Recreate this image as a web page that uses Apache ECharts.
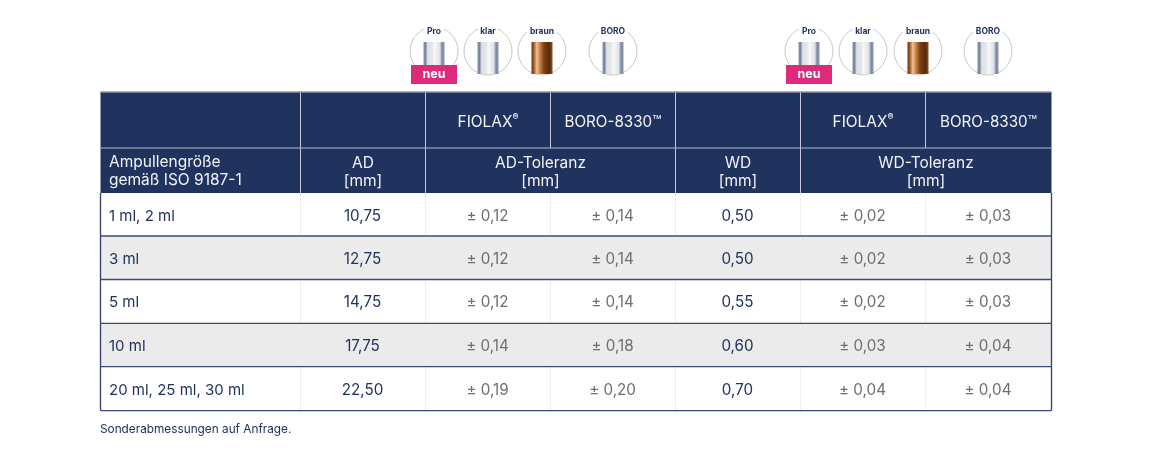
<!DOCTYPE html>
<html>
<head>
<meta charset="utf-8">
<style>
  html, body { margin: 0; padding: 0; background: #fff; }
  #chart { width: 1152px; height: 465px; }
</style>
<script src="https://cdn.jsdelivr.net/npm/echarts@6/dist/echarts.min.js"></script>
</head>
<body>
<div id="chart"></div>
<script>
// table content
const sizes = ['1 ml, 2 ml', '3 ml', '5 ml', '10 ml', '20 ml, 25 ml, 30 ml'];
const ad = ['10,75', '12,75', '14,75', '17,75', '22,50'];
const adTolFiolax = ['± 0,12', '± 0,12', '± 0,12', '± 0,14', '± 0,19'];
const adTolBoro = ['± 0,14', '± 0,14', '± 0,14', '± 0,18', '± 0,20'];
const wd = ['0,50', '0,50', '0,55', '0,60', '0,70'];
const wdTolFiolax = ['± 0,02', '± 0,02', '± 0,02', '± 0,03', '± 0,04'];
const wdTolBoro = ['± 0,03', '± 0,03', '± 0,03', '± 0,04', '± 0,04'];
const footnote = 'Sonderabmessungen auf Anfrage.';

const NAVY = '#20325e';
const GREY_TEXT = '#6e6e6e';
const FONT = 'Inter, "Noto Sans", sans-serif';

// column and row edges, in axis units
const colEdges = [0, 200, 325, 450, 575, 700, 825, 951];
const rowEdges = [0, 56, 101, 144, 187.5, 231.3, 274.7, 318.6];

// header cells: col from, col to, row, text
const headerCells = [
  [0, 1, 0, ''], [1, 2, 0, ''], [2, 3, 0, 'FIOLAX'], [3, 4, 0, 'BORO-8330™'],
  [4, 5, 0, ''], [5, 6, 0, 'FIOLAX'], [6, 7, 0, 'BORO-8330™'],
  [0, 1, 1, 'Ampullengröße\ngemäß ISO 9187-1'], [1, 2, 1, 'AD\n[mm]'], [2, 4, 1, 'AD-Toleranz\n[mm]'],
  [4, 5, 1, 'WD\n[mm]'], [5, 7, 1, 'WD-Toleranz\n[mm]']
];

const bodyColumns = [sizes, ad, adTolFiolax, adTolBoro, wd, wdTolFiolax, wdTolBoro];

function headerItem(params, api) {
  const c = headerCells[params.dataIndex];
  const p0 = api.coord([colEdges[c[0]], rowEdges[c[2]]]);
  const p1 = api.coord([colEdges[c[1]], rowEdges[c[2] + 1]]);
  const isFirst = c[0] === 0;
  // the AD-Toleranz heading sits left of its span in the original
  const shift = c[0] === 2 && c[1] === 4 ? -10 : 0;
  const style = {
    x: isFirst ? p0[0] + 8.5 : (p0[0] + p1[0]) / 2 + shift,
    y: (p0[1] + p1[1]) / 2 + (c[2] === 0 ? 2 : isFirst ? 0.5 : 1.5),
    text: c[3],
    fill: '#f2f3f6',
    font: (c[2] === 0 ? '15.2px ' : '15.5px ') + FONT,
    lineHeight: 18,
    align: isFirst ? 'left' : 'center',
    verticalAlign: 'middle'
  };
  if (c[3] === 'FIOLAX') {
    style.text = '{a|FIOLAX}{b|®}';
    style.rich = {
      a: { fill: '#f2f3f6', font: '15.4px ' + FONT },
      b: { fill: '#f2f3f6', font: 'bold 9px ' + FONT, verticalAlign: 'top', padding: [0, 0, 5, 0] }
    };
  }
  return {
    type: 'group',
    children: [
      { type: 'rect', shape: { x: p0[0], y: p0[1], width: p1[0] - p0[0], height: p1[1] - p0[1] }, style: { fill: NAVY } },
      { type: 'text', style: style, z2: 5 }
    ]
  };
}

function bodyItem(params, api) {
  const col = api.value(0), row = api.value(1);
  const p0 = api.coord([colEdges[col], rowEdges[row + 2]]);
  const p1 = api.coord([colEdges[col + 1], rowEdges[row + 3]]);
  const isFirst = col === 0;
  const isTol = col === 2 || col === 3 || col === 5 || col === 6;
  return {
    type: 'group',
    children: [
      { type: 'rect', shape: { x: p0[0], y: p0[1], width: p1[0] - p0[0], height: p1[1] - p0[1] },
        style: { fill: row % 2 ? '#ebebeb' : '#ffffff' } },
      { type: 'text', z2: 5, style: {
        x: isFirst ? p0[0] + 8.5 : (p0[0] + p1[0]) / 2 - 0.5,
        y: (p0[1] + p1[1]) / 2 + 1.5,
        text: bodyColumns[col][row],
        fill: isTol ? GREY_TEXT : NAVY,
        font: (isFirst ? '15px ' : '15.2px ') + FONT,
        align: isFirst ? 'left' : 'center',
        verticalAlign: 'middle'
      } }
    ]
  };
}

// [x0, y0, x1, y1, colour, width]
const ruleData = [];
[1, 2, 3, 4, 5, 6].forEach(function (i) {
  const merged = i === 3 || i === 6;
  ruleData.push([colEdges[i], rowEdges[0], colEdges[i], merged ? rowEdges[1] : rowEdges[2], '#c3c8d4', 1]);
  ruleData.push([colEdges[i], rowEdges[2], colEdges[i], rowEdges[7], '#eeeeee', 1]);
});
ruleData.push([0, rowEdges[0], 951, rowEdges[0], '#8f98b0', 1.5]);
ruleData.push([0, rowEdges[1], 951, rowEdges[1], '#b4bac9', 1.2]);
[3, 4, 5, 6, 7].forEach(function (r) {
  ruleData.push([0, rowEdges[r], 951, rowEdges[r], '#3b4b78', 1.3]);
});
ruleData.push([0, rowEdges[2], 0, rowEdges[7], '#2f3f6c', 1.3]);
ruleData.push([951, rowEdges[2], 951, rowEdges[7], '#2f3f6c', 1.3]);

function ruleItem(params, api) {
  const r = ruleData[params.dataIndex];
  const a = api.coord([r[0], r[1]]), b = api.coord([r[2], r[3]]);
  return { type: 'line', shape: { x1: a[0], y1: a[1], x2: b[0], y2: b[1] }, style: { stroke: r[4], lineWidth: r[5] } };
}

// ampoule pictograms above the table
const iconLabels = ['Pro', 'klar', 'braun', 'BORO'];
const iconCentres = [[434, 488, 542, 613], [809, 863, 918, 988]];

function glassFill() {
  return new echarts.graphic.LinearGradient(0, 0, 1, 0, [
    { offset: 0, color: '#8a97ad' }, { offset: 0.1, color: '#77869f' }, { offset: 0.2, color: '#dfe2e6' },
    { offset: 0.4, color: '#e3e5e8' }, { offset: 0.52, color: '#f7f8f9' }, { offset: 0.78, color: '#dfe1e5' },
    { offset: 0.88, color: '#7d8ba3' }, { offset: 1, color: '#8a97ad' }
  ]);
}
function brownFill() {
  return new echarts.graphic.LinearGradient(0, 0, 1, 0, [
    { offset: 0, color: '#6b3410' }, { offset: 0.12, color: '#a55f28' }, { offset: 0.25, color: '#f0c096' },
    { offset: 0.42, color: '#c27a3c' }, { offset: 0.6, color: '#7a4015' }, { offset: 0.85, color: '#5a2c0c' }, { offset: 1, color: '#8a4f20' }
  ]);
}

const graphics = [];
iconCentres.forEach(function (centres) {
  centres.forEach(function (cx, i) {
    const label = iconLabels[i];
    graphics.push({ type: 'circle', shape: { cx: cx, cy: 51, r: 24 }, style: { fill: '#fff', stroke: '#c8c8c8', lineWidth: 1 } });
    graphics.push({ type: 'rect', shape: { x: cx - 10.5, y: 42, width: 21, height: 32 }, style: { fill: label === 'braun' ? brownFill() : glassFill() } });
    const w = label === 'braun' ? 30 : label === 'BORO' ? 29 : 20;
    graphics.push({ type: 'rect', shape: { x: cx - w / 2, y: 25, width: w, height: 12 }, style: { fill: '#fff' } });
    graphics.push({ type: 'text', style: { x: cx, y: 31, text: label, fill: NAVY, font: 'bold 8.5px ' + FONT, align: 'center', verticalAlign: 'middle' } });
  });
  const x = centres[0];
  graphics.push({ type: 'rect', shape: { x: x - 23, y: 65, width: 46, height: 19 }, style: { fill: '#dd2a7b' } });
  graphics.push({ type: 'text', style: { x: x, y: 74.5, text: 'neu', fill: '#fff', font: 'bold 12.5px ' + FONT, align: 'center', verticalAlign: 'middle' } });
});
graphics.push({ type: 'text', style: { x: 100, y: 429.5, text: footnote, fill: NAVY, font: '11.8px ' + FONT, align: 'left', verticalAlign: 'middle' } });

const bodyData = [];
bodyColumns.forEach(function (column, c) {
  column.forEach(function (v, r) { bodyData.push([c, r]); });
});

const myChart = echarts.init(document.getElementById('chart'), null, { renderer: 'canvas' });
myChart.setOption({
  animation: false,
  backgroundColor: '#fff',
  grid: { left: 100.5, top: 92, width: 951, height: 318.6 },
  xAxis: { type: 'value', min: 0, max: 951, show: false },
  yAxis: { type: 'value', min: 0, max: 318.6, inverse: true, show: false },
  graphic: graphics.map(function (g) { g.silent = true; return g; }),
  series: [
    { type: 'custom', coordinateSystem: 'cartesian2d', clip: false, silent: true, renderItem: headerItem,
      encode: { x: 0, y: 1 }, data: headerCells.map(function (c, i) { return [i, 0]; }), z: 2 },
    { type: 'custom', coordinateSystem: 'cartesian2d', clip: false, silent: true, renderItem: bodyItem,
      encode: { x: 0, y: 1 }, data: bodyData, z: 2 },
    { type: 'custom', coordinateSystem: 'cartesian2d', clip: false, silent: true, renderItem: ruleItem,
      encode: { x: 0, y: 1 }, data: ruleData.map(function (r, i) { return [i, 0]; }), z: 3 }
  ]
});
</script>
</body>
</html>
